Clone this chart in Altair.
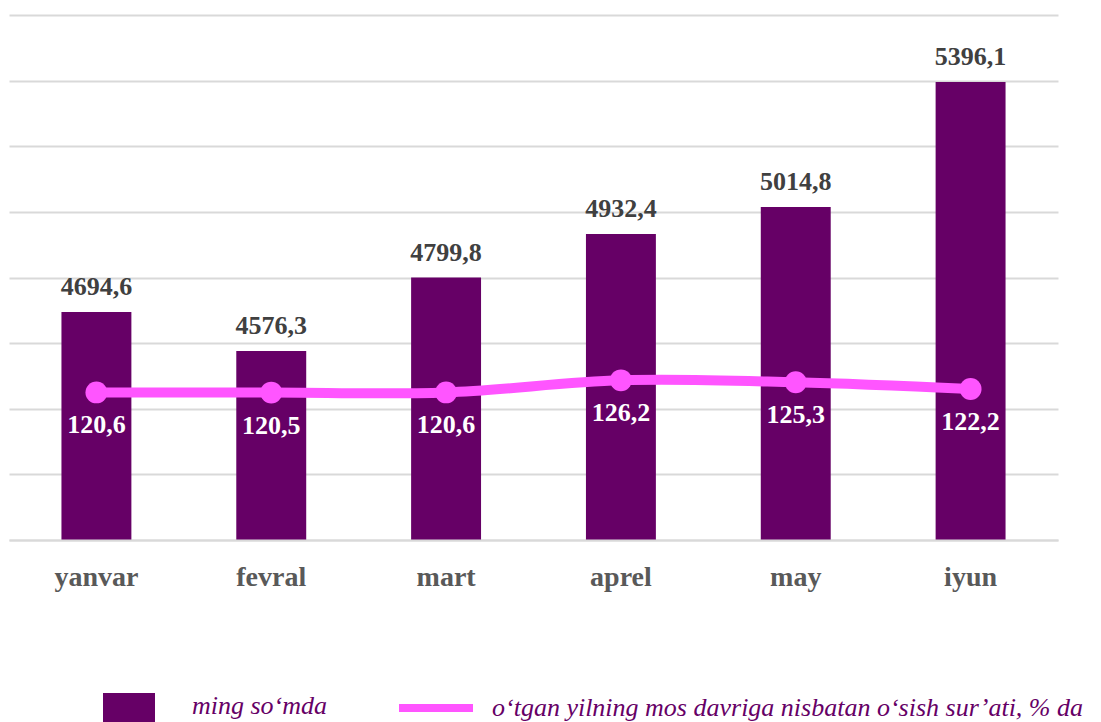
import altair as alt
import pandas as pd

months = ["yanvar", "fevral", "mart", "aprel", "may", "iyun"]
amounts = [4694.6, 4576.3, 4799.8, 4932.4, 5014.8, 5396.1]
growth = [120.6, 120.5, 120.6, 126.2, 125.3, 122.2]
bar_series = "ming so‘mda"
line_series = "o‘tgan yilning mos davriga nisbatan o‘sish sur’ati, % da"
grid_values = [4000, 4200, 4400, 4600, 4800, 5000, 5200, 5400, 5600]

def fmt(v):
    return f"{v:.1f}".replace(".", ",")

df = pd.DataFrame({
    "month": months,
    "amount": amounts,
    "growth": growth,
    "amount_lbl": [fmt(v) for v in amounts],
    "growth_lbl": [fmt(v) for v in growth],
    "s1": [bar_series] * len(months),
    "s2": [line_series] * len(months),
})

FONT = "Liberation Serif"
BAR = "#660066"
LINE = "#FF55FF"

x = alt.X("month:N", sort=months, title=None,
          scale=alt.Scale(paddingInner=0.6, paddingOuter=0.3),
          axis=alt.Axis(labelAngle=0, labelFont=FONT, labelFontSize=28,
                        labelFontWeight="bold", labelColor="#595959",
                        ticks=False, tickSize=0, labelPadding=23,
                        domainColor="#d9d9d9", domainWidth=2, grid=False,
                        zindex=1))

y1 = alt.Y("amount:Q", title=None,
           scale=alt.Scale(domain=[4000, 5600], nice=False, zero=False),
           axis=alt.Axis(values=grid_values, labels=False, ticks=False,
                         domain=False, grid=True, gridColor="#d9d9d9",
                         gridWidth=2))

base = alt.Chart(df)

bars = base.mark_bar().encode(
    x=x, y=y1, y2=alt.datum(4000),
    color=alt.Color("s1:N", title=None,
                    scale=alt.Scale(domain=[bar_series], range=[BAR]),
                    legend=alt.Legend(orient="none", legendX=94, legendY=678,
                                      symbolType="square", symbolSize=2704,
                                      symbolStrokeWidth=0, padding=0,
                                      labelFont=FONT, labelFontSize=26,
                                      labelFontStyle="italic", labelColor=BAR,
                                      labelOffset=37, labelLimit=1000,
                                      labelBaseline="bottom")),
)

bar_text = base.mark_text(font=FONT, fontSize=26, fontWeight="bold",
                          color="#404040", baseline="alphabetic", dy=-17).encode(
    x=x, y=y1, text="amount_lbl:N")

y2 = alt.Y("growth:Q", title=None,
           scale=alt.Scale(domain=[52, 296], nice=False, zero=False),
           axis=None)

line = base.mark_line(strokeWidth=10, interpolate="catmull-rom").encode(
    x=x, y=y2,
    stroke=alt.Stroke("s2:N", title=None,
                      scale=alt.Scale(domain=[line_series], range=[LINE]),
                      legend=alt.Legend(orient="none", legendX=386, legendY=652,
                                        symbolType="stroke", symbolSize=5476,
                                        symbolStrokeWidth=8, padding=0,
                                        symbolStrokeColor="#EE2EE6",
                                        labelFont=FONT, labelFontSize=26,
                                        labelFontStyle="italic", labelColor=BAR,
                                        labelOffset=15, labelLimit=1000,
                                        labelBaseline="middle")),
)

points = base.mark_circle(size=480, opacity=1, color=LINE).encode(x=x, y=y2)

line_text = base.mark_text(font=FONT, fontSize=26, fontWeight="bold",
                           color="white", baseline="alphabetic", dy=41).encode(
    x=x, y=y2, text="growth_lbl:N")

left = alt.layer(bars, bar_text)
right = alt.layer(line, points, line_text)

chart = alt.layer(left, right).resolve_scale(y="independent").properties(
    width=1049, height=525,
    autosize=alt.AutoSizeParams(type="none"),
    padding={"left": 1, "top": 7, "right": 30, "bottom": 200},
).configure_view(stroke=None)

chart.save("out.html", embed_options={"renderer": "svg", "actions": False})
